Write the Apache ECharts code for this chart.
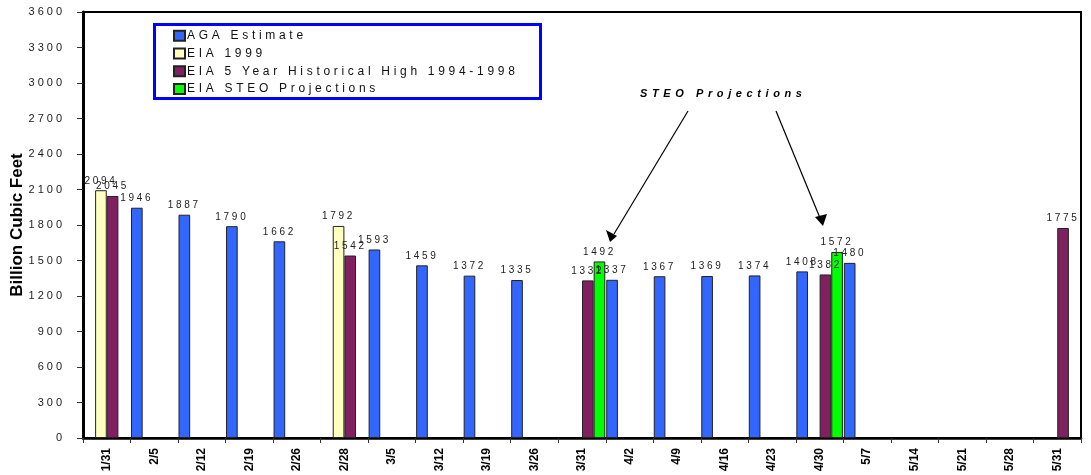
<!DOCTYPE html>
<html>
<head>
<meta charset="utf-8">
<script src="https://cdn.jsdelivr.net/npm/echarts@6/dist/echarts.min.js"></script>
<style>
  html, body { margin: 0; padding: 0; background: #fff; }
  #chart { width: 1091px; height: 475px; }
</style>
</head>
<body>
<div id="chart"></div>
<script>
// ---- data ----
const categories = ['1/31','2/5','2/12','2/19','2/26','2/28','3/5','3/12','3/19','3/26','3/31','4/2','4/9','4/16','4/23','4/30','5/7','5/14','5/21','5/28','5/31'];
const agaEstimate = [null,1946,1887,1790,1662,null,1593,1459,1372,1335,null,1337,1367,1369,1374,1408,1480,null,null,null,null];
const eia1999 = [2094,null,null,null,null,1792,null,null,null,null,null,null,null,null,null,null,null,null,null,null,null];
const eia5yrHigh = [2045,null,null,null,null,1542,null,null,null,null,1332,null,null,null,null,1382,null,null,null,null,1775];
const steoProjections = [null,null,null,null,null,null,null,null,null,null,1492,null,null,null,null,1572,null,null,null,null,null];
const seriesNames = ['AGA Estimate','EIA 1999','EIA 5 Year Historical High 1994-1998','EIA STEO Projections'];
const yTicks = [0,300,600,900,1200,1500,1800,2100,2400,2700,3000,3300,3600];

// letter-spaced text, as in the original rendering
(function () {
  const P = CanvasRenderingContext2D.prototype;
  const ft = P.fillText, mt = P.measureText;
  function sp(ctx) {
    if (!('letterSpacing' in ctx)) return;
    const f = ctx.font || '';
    const m = f.match(/(\d+(?:\.\d+)?)px/);
    const size = m ? parseFloat(m[1]) : 12;
    if (/italic/.test(f)) ctx.letterSpacing = '4.6px';
    else if (/bold|700/.test(f)) ctx.letterSpacing = '0px';
    else if (size >= 12) ctx.letterSpacing = '3.7px';
    else if (size >= 11) ctx.letterSpacing = '3px';
    else ctx.letterSpacing = '2.7px';
  }
  P.fillText = function () { sp(this); return ft.apply(this, arguments); };
  P.measureText = function () { sp(this); return mt.apply(this, arguments); };
})();

const FONT = 'Liberation Sans, Arial, sans-serif';
const colors = ['#3366FF', '#FFFFC0', '#802060', '#00FF00'];
const dataSets = [agaEstimate, eia1999, eia5yrHigh, steoProjections];

const chart = echarts.init(document.getElementById('chart'), null, { renderer: 'canvas' });

const series = seriesNames.map((name, i) => ({
  name: name,
  type: 'bar',
  data: dataSets[i],
  barGap: '0%',
  barCategoryGap: '2%',
  itemStyle: { color: colors[i], borderColor: '#222', borderWidth: 1 },
  label: {
    show: true, position: 'top', distance: 3,
    fontFamily: FONT, fontSize: 10, color: '#222'
  },
  z: 3
}));

const option = {
  animation: false,
  backgroundColor: '#fff',
  textStyle: { fontFamily: FONT },
  grid: {
    left: 83, right: 10, top: 12, bottom: 37,
    containLabel: false, outerBoundsMode: 'none',
    show: true, borderColor: '#000', borderWidth: 2, backgroundColor: 'transparent'
  },
  legend: {
    orient: 'vertical', left: 173, top: 28, padding: 0,
    itemWidth: 11, itemHeight: 10, itemGap: 2,
    icon: 'rect',
    textStyle: { fontFamily: FONT, fontSize: 12, lineHeight: 14, color: '#111', padding: [0, 0, 0, -3] },
    data: seriesNames
  },
  xAxis: {
    type: 'category',
    data: categories,
    axisLine: { lineStyle: { color: '#000', width: 2.5 } },
    axisTick: { show: true, length: 5, lineStyle: { color: '#333' } },
    axisLabel: {
      rotate: 90, margin: 10, interval: 0,
      fontFamily: FONT, fontWeight: 'bold', fontSize: 12, color: '#000',
      padding: [10, 0, 0, 0]
    },
    splitLine: { show: false }
  },
  yAxis: {
    type: 'value',
    min: 0, max: 3600, interval: 300,
    name: 'Billion Cubic Feet',
    nameLocation: 'middle',
    nameGap: 57,
    nameMoveOverlap: false,
    nameTextStyle: { fontFamily: FONT, fontWeight: 'bold', fontSize: 17, color: '#000' },
    axisLine: { show: true, lineStyle: { color: '#000', width: 3 } },
    axisTick: { show: true, length: 6, lineStyle: { color: '#333' } },
    axisLabel: {
      margin: 18, fontFamily: FONT, fontSize: 11, color: '#222',
      formatter: v => (yTicks.indexOf(v) >= 0 ? String(v) : '')
    },
    splitLine: { show: false }
  },
  graphic: [
    {
      type: 'rect', left: 153, top: 23, z: 1,
      shape: { width: 386, height: 74 },
      style: { fill: '#fff', stroke: '#0000FF', lineWidth: 3 }
    },
    {
      type: 'text', z: 10, left: 640, top: 86,
      style: { text: 'STEO Projections', font: 'italic bold 11px ' + FONT, fill: '#000' }
    },
    {
      type: 'line', z: 10,
      shape: { x1: 688, y1: 111, x2: 614, y2: 234 },
      style: { stroke: '#000', lineWidth: 1.2 }
    },
    {
      type: 'polygon', z: 10,
      shape: { points: [[610, 242], [606, 230], [617, 236]] },
      style: { fill: '#000' }
    },
    {
      type: 'line', z: 10,
      shape: { x1: 776, y1: 111, x2: 820, y2: 218 },
      style: { stroke: '#000', lineWidth: 1.2 }
    },
    {
      type: 'polygon', z: 10,
      shape: { points: [[823, 226], [815, 217], [827, 214]] },
      style: { fill: '#000' }
    }
  ],
  series: series
};

chart.setOption(option);
</script>
</body>
</html>
